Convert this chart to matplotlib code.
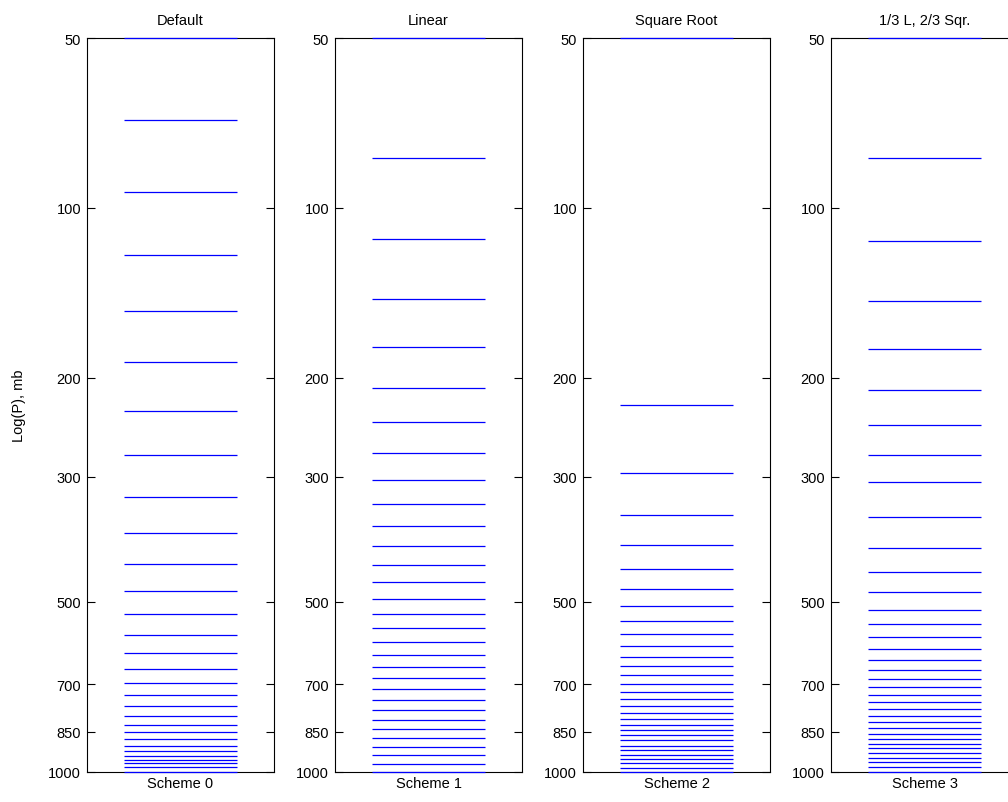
import numpy as np
import matplotlib.pyplot as plt
from matplotlib.ticker import FixedLocator, NullLocator, FixedFormatter

plt.rcParams['font.family'] = ['Liberation Sans', 'DejaVu Sans']
plt.rcParams['font.size'] = 10.5

titles = ['Default', 'Linear', 'Square Root', '1/3 L, 2/3 Sqr.']
xlabels = ['Scheme 0', 'Scheme 1', 'Scheme 2', 'Scheme 3']
yticks = [50, 100, 200, 300, 500, 700, 850, 1000]

# pressure levels (mb)
levels_default = [50, 69.8, 93.7, 121.3, 152.5, 187.6, 228.9, 274.3, 325.6, 377.7,
                  428, 478.8, 526.5, 573, 616.6, 657.5, 696, 732, 764.7, 796.6,
                  825.4, 851.3, 876.2, 899.5, 918, 936.9, 952.2, 967.8, 982, 1000]
levels_linear = [50, 81.7, 113.3, 145, 176.7, 208.3, 240, 271.7, 303.3, 335,
                 366.7, 398.3, 430, 461.7, 493.3, 525, 556.7, 588.3, 620, 651.7,
                 683.3, 715, 746.7, 778.3, 810, 841.7, 873.3, 905, 936.7, 968.3, 1000]
levels_sqrt = [50, 223.4, 295.3, 350.4, 396.7, 437.5, 474.8, 508.9, 540.9, 570.3,
               598.5, 625.1, 650.4, 674.5, 699, 721.5, 743.2, 765.5, 785.8, 806.5,
               825.7, 844.6, 863, 880.9, 899.5, 917.2, 934.4, 951.2, 967.8, 984, 1000]
levels_mixed = [50, 81.6, 114.5, 146.2, 177.9, 210.6, 242.7, 274.7, 307, 354,
                401.5, 442.9, 480.6, 516, 547.6, 577.4, 606, 634.5, 659.5, 685,
                708.6, 731.2, 753.3, 776.2, 796.6, 817.5, 837.5, 856.3, 875.1, 893.1,
                910.3, 927.6, 945.6, 962.5, 980, 1000]
schemes = [levels_default, levels_linear, levels_sqrt, levels_mixed]

fig = plt.figure(figsize=(10.08, 8.03), dpi=100)
W, H = 1008, 803
for i, lev in enumerate(schemes):
    left = 86.7 + i * 248
    ax = fig.add_axes([left / W, (H - 772.5) / H, 187.6 / W, 733.2 / H])
    ax.hlines(lev, 0.2, 0.8, colors='#0000ff', linewidth=0.9, zorder=3, clip_on=False)
    ax.set_yscale('log')
    ax.set_ylim(1000, 50)
    ax.set_xlim(0, 1)
    ax.yaxis.set_major_locator(FixedLocator(yticks))
    ax.yaxis.set_major_formatter(FixedFormatter([str(t) for t in yticks]))
    ax.yaxis.set_minor_locator(NullLocator())
    ax.set_xticks([])
    ax.tick_params(axis='y', direction='in', length=6, width=0.8, right=True,
                   labelsize=10.5, pad=4)
    for s in ax.spines.values():
        s.set_linewidth(0.8)
    ax.set_title(titles[i], fontsize=10.5, pad=10)
    ax.set_xlabel(xlabels[i], fontsize=10.5, labelpad=3)
    if i == 0:
        ax.set_ylabel('Log(P), mb', fontsize=10.5, labelpad=16)

fig.savefig('out.png', dpi=100)
